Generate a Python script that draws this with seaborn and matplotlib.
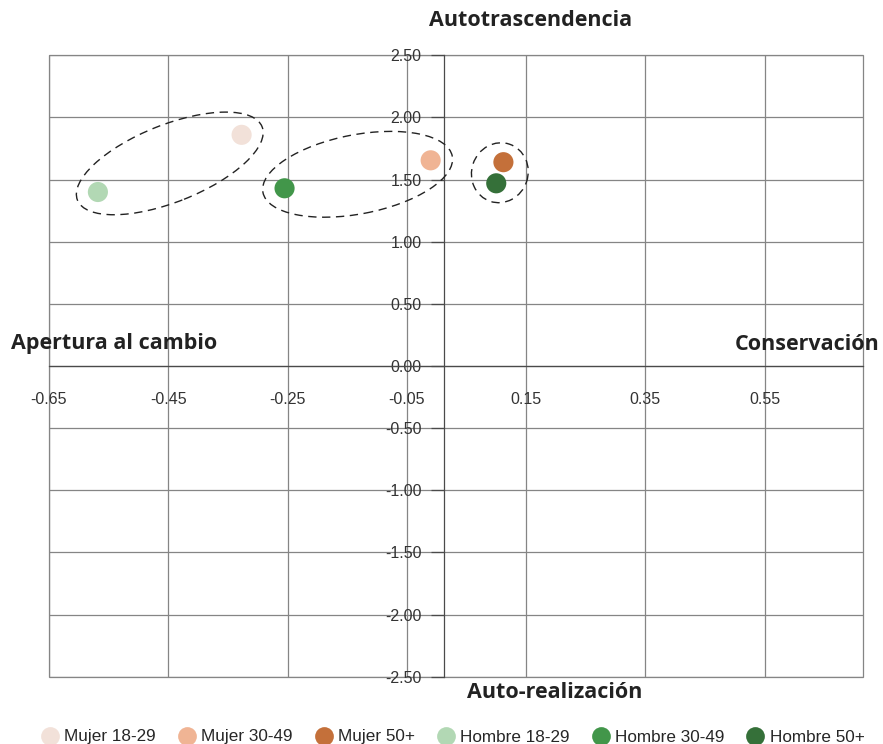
import numpy as np
import pandas as pd
import matplotlib
matplotlib.use("Agg")
import matplotlib.pyplot as plt
import matplotlib.transforms as mtransforms
from matplotlib.patches import Ellipse, Rectangle
from matplotlib.lines import Line2D
import seaborn as sns

# ==========
# Datos
# ==========
grupos = ['Mujer 18-29', 'Mujer 30-49', 'Mujer 50+',
          'Hombre 18-29', 'Hombre 30-49', 'Hombre 50+']
eje_x = [-0.327, -0.010, 0.112, -0.568, -0.255, 0.100]   # apertura (-) / conservación (+)
eje_y = [1.86, 1.655, 1.64, 1.40, 1.43, 1.47]            # autotrascendencia (+) / auto-realización (-)
colores = ['#F2E1D9', '#F0B494', '#C4703A', '#B2D8B4', '#42964A', '#357039']

x_ticks = [-0.65, -0.45, -0.25, -0.05, 0.15, 0.35, 0.55]
y_ticks = [2.5, 2.0, 1.5, 1.0, 0.5, 0.0, -0.5, -1.0, -1.5, -2.0, -2.5]

# pares agrupados por edad (índices en grupos)
pares = [(0, 3), (1, 4), (2, 5)]
elipse_pad = [22, 22, 19]          # px extra en el eje mayor
elipse_menor = [38.6, 39.6, 28.2]  # semi-eje menor en px

df = pd.DataFrame({'grupo': grupos, 'x': eje_x, 'y': eje_y})

# ==========
# Figura
# ==========
DPI = 100
sns.set_style('white')
plt.rcParams['font.family'] = ['Liberation Sans', 'DejaVu Sans']

fig = plt.figure(figsize=(8.83, 7.44), dpi=DPI)
ax = fig.add_axes([49 / 883, 1 - 676.7 / 744, (863 - 49) / 883, (676.7 - 55.3) / 744])

GRID = '#858585'
AXIS = '#4a4a4a'
TXT = '#333333'

sns.scatterplot(data=df, x='x', y='y', hue='grupo', palette=colores,
                hue_order=grupos, s=210, edgecolor='none', legend=False,
                ax=ax, zorder=5)

ax.set_xlim(-0.65, 0.715)
ax.set_ylim(-2.5, 2.5)
ax.set_xticks(x_ticks)
ax.set_yticks(y_ticks)
ax.set_xticklabels([f'{v:.2f}' for v in x_ticks])
ax.set_yticklabels([f'{v:.2f}' for v in y_ticks])
ax.set_xlabel('')
ax.set_ylabel('')

# cuadrícula dibujada a mano para que no se pierda ninguna línea
ax.grid(False)
ax.vlines(x_ticks, -2.5, 2.5, color=GRID, lw=0.9, zorder=0)
ax.hlines(y_ticks, -0.65, 0.715, color=GRID, lw=0.9, zorder=0)
ax.add_patch(Rectangle((0, 0), 1, 1, transform=ax.transAxes, fill=False,
                       ec=GRID, lw=0.9, clip_on=False, zorder=0))

for s in ['top', 'right']:
    ax.spines[s].set_visible(False)
# el eje vertical de Excel cruza un poco a la derecha del 0
ax.spines['left'].set_position(('data', 0.013))
ax.spines['bottom'].set_position(('data', 0))
ax.spines['left'].set_color(AXIS)
ax.spines['bottom'].set_color(AXIS)
ax.spines['left'].set_linewidth(0.9)
ax.spines['bottom'].set_linewidth(0.9)
ax.spines['left'].set_zorder(1)
ax.spines['bottom'].set_zorder(1)

ax.tick_params(axis='y', direction='out', length=9.5, width=0.9, color=AXIS,
               pad=7, labelsize=11.5, labelcolor=TXT, left=True)
ax.tick_params(axis='x', length=0, pad=19, labelsize=11.5, labelcolor=TXT)

# elipses punteadas alrededor de cada grupo de edad
for (i, j), pad, menor in zip(pares, elipse_pad, elipse_menor):
    p = ax.transData.transform([[eje_x[i], eje_y[i]], [eje_x[j], eje_y[j]]])
    dx, dy = p[0] - p[1]
    ang = np.degrees(np.arctan2(dy, dx))
    medio = np.hypot(dx, dy) / 2
    cx, cy = (eje_x[i] + eje_x[j]) / 2, (eje_y[i] + eje_y[j]) / 2
    trans = fig.dpi_scale_trans + mtransforms.ScaledTranslation(cx, cy, ax.transData)
    e = Ellipse((0, 0), 2 * (medio + pad) / DPI, 2 * menor / DPI, angle=ang,
                transform=trans, fill=False, ec='#222222', lw=1.0,
                ls=(0, (6, 4)), zorder=6)
    ax.add_patch(e)

# títulos de los cuadrantes
tit = dict(fontsize=15.5, fontweight='bold', color='#222222',
           family=['Open Sans', 'DejaVu Sans'], ha='center', va='center')
fig.text(531 / 883, 1 - 21 / 744, 'Autotrascendencia', **tit)
fig.text(555 / 883, 1 - 693 / 744, 'Auto-realización', **tit)
fig.text(114 / 883, 1 - 344 / 744, 'Apertura al cambio', **tit)
fig.text(807 / 883, 1 - 344 / 744, 'Conservación', **tit)

# leyenda
handles = [Line2D([], [], marker='o', ls='none', markersize=13.5,
                  markerfacecolor=c, markeredgecolor='none') for c in colores]
fig.legend(handles, grupos, loc='center', bbox_to_anchor=(0.512, 1 - 737 / 744),
           ncol=6, frameon=False, handletextpad=0.25, columnspacing=1.2,
           handlelength=1.2, prop={'size': 12.3}, labelcolor='#262626')

fig.savefig('out.png', dpi=DPI)
